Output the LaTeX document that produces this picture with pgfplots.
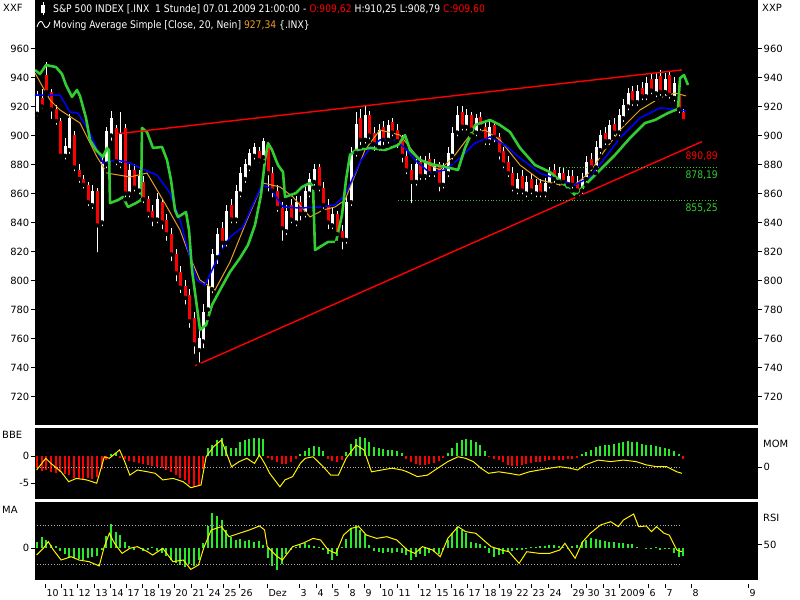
\documentclass[border=0pt]{standalone}
\usepackage{pgfplots}
\pgfplotsset{compat=1.18}
\usepackage{pgfplotstable}
\usepackage{fontspec}
\setmainfont{DejaVu Sans}
\newfontfamily\hdr[FakeStretch=0.88]{DejaVu Sans}
\definecolor{mgreen}{RGB}{50,205,50}
\definecolor{hgreen}{RGB}{40,235,40}
\definecolor{morange}{RGB}{230,160,40}
\definecolor{dotgray}{RGB}{170,170,170}

% hourly candles (x = bar position), up candles
\pgfplotstableread{
x o c h l
37 915 928 931 912
65 886 893 898 882
69 890 912 915 886
92 852 862 866 848
102 840 882 885 836
106 880 903 906 876
111 900 912 917 895
120 880 902 916 876
129 860 876 880 856
139 862 872 876 858
157 842 856 860 838
199 752 760 766 742
203 758 778 784 752
208 780 796 802 774
212 794 818 822 790
217 816 832 836 810
226 826 848 852 822
236 842 862 866 838
240 860 874 878 856
245 870 880 884 866
249 878 888 891 874
254 886 892 895 882
263 885 896 898 882
286 834 848 852 830
296 840 854 858 836
305 846 862 866 842
309 860 870 874 856
314 868 877 880 864
332 838 846 850 834
346 828 854 858 824
351 854 888 892 850
356 888 908 916 884
365 897 914 920 893
379 892 904 908 888
388 897 907 911 893
416 868 880 884 864
425 872 882 886 868
434 874 880 884 870
443 866 877 881 862
448 874 888 892 870
452 886 902 906 882
457 902 914 920 898
466 906 914 918 902
476 902 912 915 898
489 896 906 910 892
517 862 870 874 858
526 860 868 872 856
536 860 866 870 856
545 860 867 871 856
549 866 874 878 862
559 868 874 878 864
568 866 872 876 862
582 862 870 874 858
586 870 882 886 866
596 878 892 896 874
600 890 900 904 886
609 896 907 911 892
619 902 914 918 898
623 912 921 925 908
628 920 929 933 916
637 923 931 935 919
646 927 936 940 923
656 929 939 943 925
665 930 939 943 926
674 926 936 940 922
}\up
% down candles
\pgfplotstableread{
x o c h l
42 926 920 932 917
46 942 930 951 928
51 930 918 932 910
56 918 910 921 906
60 910 886 912 884
74 900 878 903 874
79 876 870 880 866
83 870 866 873 862
88 866 854 868 850
97 862 838 864 818
116 905 882 907 878
125 905 860 908 856
134 876 864 880 860
143 868 856 872 852
148 856 846 858 842
152 848 842 852 836
162 854 840 856 834
166 842 832 846 826
171 832 818 836 812
176 818 805 822 798
180 806 795 810 790
185 796 788 800 782
189 790 772 794 766
194 774 756 778 748
222 836 826 840 820
231 852 842 856 838
259 889 883 892 880
268 892 874 894 860
272 874 862 878 856
277 862 850 866 846
282 850 836 854 826
291 852 842 856 838
300 854 846 858 840
319 878 864 880 860
323 864 852 868 848
328 852 840 856 834
337 846 832 848 826
342 834 828 838 820
360 912 897 918 892
369 914 900 917 896
374 902 894 906 888
383 906 897 910 892
392 909 902 912 898
397 904 896 908 890
402 896 886 900 880
406 886 876 890 872
411 876 868 880 852
420 882 872 886 868
429 884 874 888 870
439 880 866 882 860
462 916 906 920 902
471 914 904 916 900
480 913 906 916 902
485 906 896 910 892
494 907 899 910 894
499 899 887 902 882
503 889 880 892 876
508 882 874 886 870
512 874 864 878 860
522 872 862 876 858
531 870 862 874 858
540 867 860 870 856
554 876 870 880 866
563 874 868 878 864
572 872 866 876 862
577 868 862 872 858
591 884 878 888 874
605 902 896 906 892
614 908 902 912 898
632 931 923 934 919
642 933 927 937 923
651 939 931 943 927
660 941 930 945 926
669 942 928 944 924
679 928 918 931 914
683 916 910 918 908
}\dn

\pgfplotstableread{
x y
35 927.9
60 927.9
70 916.2
78 915.5
90 901.7
103 881.0
117 883.1
130 881.0
140 877.6
157 872.7
170 860.3
180 841.7
190 816.2
197 800.3
205 796.9
212 807.2
220 818.9
230 830.0
243 836.9
255 855.5
262 865.9
270 863.8
283 850.7
300 850.0
320 850.7
335 852.1
345 859.0
352 869.3
360 881.7
370 891.4
380 896.9
395 896.9
405 891.4
415 883.1
430 874.1
445 876.2
460 884.5
475 894.8
490 899.0
505 893.4
520 884.5
540 874.1
560 869.3
575 865.9
590 871.4
605 884.5
620 898.3
640 912.1
660 919.0
680 917.6
686 916.9
}\bluema

\pgfplotstableread{
x y
35 943.1
50 924.5
60 917.6
80 908.6
97 885.2
107 874.1
130 871.4
147 874.1
163 855.5
180 834.8
190 816.2
200 800.3
215 793.4
230 812.7
247 841.7
263 867.2
280 864.5
293 857.6
310 843.8
323 848.6
335 850.7
345 855.5
355 872.7
365 890.0
380 903.8
400 900.3
420 883.1
440 876.2
455 886.6
470 900.3
485 903.8
500 896.9
520 879.6
540 869.3
560 865.9
575 865.9
590 874.8
605 890.0
620 903.8
640 917.6
660 925.9
675 929.3
686 927.3
}\orangema

\pgfplotstableread{
x y
35 945.2
40 942.4
46 948.6
56 947.2
62 942.4
66 934.8
72 926.6
77 931.4
80 927.2
86 912.1
90 896.9
96 890.0
103 885.2
107 891.4
109 890.0
110 853.4
118 855.5
123 857.6
128 850.7
136 853.4
141 855.5
142 905.2
147 902.4
153 891.4
162 892.1
167 883.1
171 869.3
175 848.6
178 843.8
186 847.2
189 834.8
192 807.2
196 786.6
200 765.9
206 769.3
212 783.1
220 793.4
230 805.9
240 815.5
248 824.5
255 838.3
261 859.0
265 883.1
268 894.8
272 890.0
278 879.6
283 874.8
285 857.6
296 860.3
302 864.5
310 867.2
313 865.2
315 821.0
328 826.6
336 826.6
342 845.2
346 869.3
350 886.6
356 890.0
370 891.4
385 890.0
398 893.4
405 900.3
410 890.0
420 883.1
435 879.6
450 877.6
458 876.2
465 891.4
475 907.2
490 910.7
500 907.2
510 902.4
520 891.4
535 879.6
550 874.8
565 865.9
575 859.0
585 865.9
600 876.2
615 886.6
630 898.3
645 908.6
655 910.7
668 915.5
678 918.3
680 939.6
684 941.7
688 934.8
}\greenline

% BBE histogram
\pgfplotstableread{
x y
37 -2.2
42 -2.8
46 -2.6
51 -3.0
56 -3.2
60 -3.0
65 -3.4
69 -3.6
74 -4.0
79 -4.2
83 -4.4
88 -4.0
92 -4.3
97 -3.8
102 -2.4
106 -0.8
120 -0.3
125 -0.6
129 -0.9
134 -1.1
139 -1.3
143 -1.5
148 -1.7
152 -1.9
157 -2.0
162 -2.3
166 -2.6
171 -3.0
176 -3.5
180 -4.0
185 -4.5
189 -5.2
194 -5.8
199 -5.6
203 -2.5
268 -0.3
272 -0.8
277 -1.2
282 -1.4
286 -1.5
291 -1.2
296 -0.6
328 -0.5
332 -1.0
337 -1.2
342 -0.8
406 -0.5
411 -1.2
416 -1.5
420 -1.6
425 -1.6
429 -1.5
434 -1.3
439 -1.0
443 -0.4
489 -0.2
494 -0.5
499 -0.8
503 -1.2
508 -1.6
512 -1.8
517 -1.8
522 -1.6
526 -1.4
531 -1.3
536 -1.2
540 -1.1
545 -1.0
549 -0.8
554 -0.7
559 -0.7
563 -0.8
568 -0.6
572 -0.5
577 -0.3
683 -0.6
}\bben
\pgfplotstableread{
x y
111 0.3
116 0.6
208 1.5
212 2.0
217 3.0
222 3.3
226 1.8
231 1.4
236 1.5
240 2.5
245 3.0
249 3.2
254 3.3
259 3.3
263 3.1
300 0.4
305 0.9
309 1.5
314 1.8
319 1.6
323 1.0
346 0.8
351 2.2
356 3.2
360 3.5
365 3.3
369 2.6
374 1.6
379 1.4
383 1.3
388 1.2
392 1.1
397 0.9
402 0.5
448 0.6
452 1.5
457 2.4
462 3.0
466 3.2
471 3.0
476 2.6
480 2.0
485 1.0
582 0.3
586 0.8
591 1.2
596 1.6
600 1.8
605 2.0
609 2.1
614 2.3
619 2.4
623 2.6
628 2.7
632 2.6
637 2.5
642 2.3
646 2.1
651 2.0
656 1.9
660 1.7
665 1.5
669 1.3
674 0.9
679 0.4
}\bbep

% momentum
\pgfplotstableread{
x y
36.6 -1.0
45.8 2.9
50.9 1.2
61.1 -1.6
68.7 -4.9
76.3 -3.8
86.5 -4.3
96.7 -5.4
104.3 3.4
109.4 2.9
119.6 5.7
124.7 1.8
129.8 -2.7
137.4 -1.0
147.6 -1.6
155.2 -2.1
162.8 -4.3
173.0 -3.8
183.2 -4.9
190.8 -6.9
201.0 -6.0
206.1 3.4
213.7 6.8
221.4 9.0
226.5 4.6
231.6 0.1
239.2 1.8
246.8 2.9
254.5 1.2
259.5 4.0
264.6 1.2
269.7 -2.1
279.9 -6.6
285.0 -4.3
292.6 -3.2
300.3 1.2
305.3 2.9
313.0 3.4
323.2 0.1
330.8 -2.7
338.4 -2.7
346.1 2.9
356.2 7.3
363.9 5.7
371.5 -1.6
381.7 -1.0
391.9 -0.4
402.0 -1.0
407.1 -1.6
417.3 -3.2
427.5 -2.7
437.7 -0.4
447.8 1.8
458.0 3.4
465.6 2.9
473.3 1.8
480.9 -0.4
488.5 -2.1
498.7 -1.6
508.9 -2.1
519.1 -2.7
529.3 -1.6
539.4 -1.0
549.6 -0.4
559.8 0.1
570.0 -0.4
577.6 -1.0
585.2 0.7
598.0 2.3
610.7 1.8
623.4 2.3
636.1 1.8
646.3 0.7
656.5 0.1
666.7 0.1
676.8 -1.6
681.9 -2.1
}\mom

% MA histogram
\pgfplotstableread{
x y
37 0.6
42 1.1
46 0.8
51 0.3
56 0.2
60 -0.3
65 -0.6
69 -0.9
74 -1.0
79 -1.1
83 -1.2
88 -1.0
92 -0.9
97 -0.8
102 -0.2
106 1.2
111 2.4
116 1.6
120 1.3
125 0.6
129 0.2
134 -0.2
139 0.1
143 -0.3
148 -0.2
152 0.1
157 -0.3
162 -0.5
166 -0.8
171 -1.2
176 -1.5
180 -1.7
185 -1.9
189 -1.6
194 -1.8
199 -1.2
203 0.5
208 2.2
212 3.5
217 3.2
222 2.8
226 1.8
231 1.1
236 0.8
240 0.9
245 0.7
249 0.8
254 0.6
259 0.7
263 0.3
268 -1.0
272 -1.8
277 -2.2
282 -1.6
286 -0.6
291 -0.2
296 0.1
300 0.3
305 0.5
309 0.3
314 0.2
319 0.1
323 -0.2
328 -0.6
332 -1.2
337 -0.8
342 0.1
346 0.9
351 2.0
356 2.3
360 1.8
365 1.4
369 0.3
374 -0.3
379 -0.4
383 -0.5
388 -0.4
392 -0.5
397 -0.4
402 -0.5
406 -0.7
411 -1.2
416 -0.9
420 -0.6
425 -0.8
429 -0.5
434 -0.4
439 -0.6
443 -0.2
448 0.8
452 1.5
457 2.1
462 1.8
466 1.5
471 0.6
476 0.5
480 0.4
485 0.2
489 -0.5
494 -0.9
499 -0.7
503 -0.6
508 -0.4
512 -0.3
517 -0.2
522 -0.2
526 -0.1
531 0.1
536 0.1
540 0.2
545 0.2
549 0.3
554 0.3
559 0.2
563 0.1
568 -0.1
572 0.2
577 0.3
582 0.6
586 0.8
591 1.0
596 0.9
600 0.8
605 0.7
609 0.6
614 0.6
619 0.5
623 0.5
628 0.4
632 0.4
637 0.1
646 -0.1
651 -0.1
656 0.1
660 -0.2
665 -0.1
669 -0.1
674 -0.5
679 -0.9
683 -0.8
}\mahist

% RSI
\pgfplotstableread{
x y
36.6 39.2
43.3 46.1
48.3 52.9
53.4 44.4
61.1 34.1
71.2 37.5
78.9 34.1
89.1 32.4
99.2 28.0
104.3 47.8
109.4 61.5
114.5 51.2
122.1 40.9
129.8 46.1
137.4 47.8
147.6 42.6
152.7 39.2
162.8 46.1
173.0 32.4
183.2 34.1
190.8 24.5
198.5 29.0
203.6 46.1
211.2 64.9
221.4 68.3
229.0 58.0
239.2 61.5
249.4 64.9
259.5 69.0
264.6 64.9
267.2 47.8
277.4 37.5
282.4 34.1
292.6 47.8
302.8 51.2
313.0 56.3
320.6 54.6
328.2 44.4
335.9 40.9
343.5 59.7
351.1 66.6
358.8 68.3
366.4 59.7
376.6 56.3
386.8 58.0
396.9 54.6
407.1 44.4
414.8 40.9
422.4 47.8
432.6 44.4
440.2 37.5
447.8 56.3
458.0 68.3
465.6 63.2
475.8 61.5
483.5 54.6
491.1 47.8
501.3 44.4
508.9 42.6
519.1 30.7
526.7 42.6
539.4 40.9
549.6 40.9
559.8 44.4
564.9 51.2
575.1 35.8
582.7 52.9
590.3 61.5
600.5 70.0
610.7 73.4
618.3 68.3
623.4 75.1
633.6 81.3
638.7 68.3
646.3 69.0
651.4 63.2
656.5 68.3
664.1 61.5
669.2 59.7
676.8 44.4
681.9 42.6
}\rsi

\pgfplotsset{
  panel/.style={scale only axis, width=723bp, xmin=35, xmax=758, anchor=south west,
    axis line style={draw=none}, xtick=\empty, tick align=outside,
    major tick length=4bp, tick style={black, line width=0.8bp},
    yticklabel style={font=\fontsize{10}{12}\selectfont, inner sep=1.5bp},
    /pgf/number format/assume math mode=true},
  wick/.style={only marks, mark=none, forget plot, error bars/.cd, y dir=plus, y explicit,
    error mark=none, error bar style={white, line width=1bp}},
  body/.style={only marks, mark=none, forget plot, error bars/.cd, y dir=plus, y explicit,
    error mark=none, error bar style={#1, line width=3bp}},
}

\begin{document}
\begin{tikzpicture}
\path[use as bounding box, fill=white] (0,0) rectangle (800bp,600bp);

% ---------- main price panel
\begin{axis}[panel, at={(35bp,175bp)}, height=425bp, ymin=700.34, ymax=993.45,
  ytick={720,740,...,960}, ytick pos=left, yticklabel pos=left,
  axis background/.style={fill=black}]
\addplot[wick] table[x=x, y=l, y error plus expr=\thisrow{h}-\thisrow{l}] {\up};
\addplot[wick] table[x=x, y=l, y error plus expr=\thisrow{h}-\thisrow{l}] {\dn};
\addplot[body=white] table[x=x, y=o, y error plus expr=\thisrow{c}-\thisrow{o}] {\up};
\addplot[body=red] table[x=x, y=c, y error plus expr=\thisrow{o}-\thisrow{c}] {\dn};
\addplot[morange, line width=1bp] table {\orangema};
\addplot[blue, line width=1.5bp] table {\bluema};
\addplot[mgreen, line width=2.6bp, line join=round] table {\greenline};
\addplot[red, line width=1.4bp] coordinates {(115,901.0) (682,945.2)};
\addplot[red, line width=1.4bp] coordinates {(195,741.2) (702,895.8)};
\addplot[mgreen, dotted, line width=0.9bp] coordinates {(560,878.19) (718,878.19)};
\addplot[mgreen, dotted, line width=0.9bp] coordinates {(398,855.25) (718,855.25)};
\node[anchor=north east, inner sep=0pt, text=red, font=\hdr\fontsize{10.5}{12}\selectfont, yshift=-3bp] at (axis cs:718,890.89) {890,89};
\node[anchor=north east, inner sep=0pt, text=mgreen, font=\hdr\fontsize{10.5}{12}\selectfont, yshift=-3bp] at (axis cs:718,878.19) {878,19};
\node[anchor=north east, inner sep=0pt, text=mgreen, font=\hdr\fontsize{10.5}{12}\selectfont, yshift=-3bp] at (axis cs:718,855.25) {855,25};
\end{axis}
\begin{axis}[panel, at={(35bp,175bp)}, height=425bp, ymin=700.34, ymax=993.45,
  ytick={720,740,...,960}, ytick pos=right, yticklabel pos=right]
\end{axis}

% ---------- BBE / MOM panel
\begin{axis}[panel, at={(35bp,101bp)}, height=71bp, ymin=-7.963, ymax=5.185,
  ytick={-5,0}, ytick pos=left, yticklabel pos=left, axis background/.style={fill=black}]
\addplot[ycomb, red, line width=1.6bp] table {\bben};
\addplot[ycomb, hgreen, line width=1.6bp] table {\bbep};
\end{axis}
\begin{axis}[panel, at={(35bp,101bp)}, height=71bp, ymin=-10.667, ymax=13,
  ytick={0}, ytick pos=right, yticklabel pos=right]
\addplot[dotgray, dotted, line width=0.8bp] coordinates {(37,0) (682,0)};
\addplot[yellow, line width=1bp] table {\mom};
\end{axis}

% ---------- MA / RSI panel
\begin{axis}[panel, at={(35bp,20bp)}, height=78bp, ymin=-3.2, ymax=4.6,
  ytick={0}, ytick pos=left, yticklabel pos=left, axis background/.style={fill=black}]
\addplot[ycomb, hgreen, line width=1.6bp] table {\mahist};
\end{axis}
\begin{axis}[panel, at={(35bp,20bp)}, height=78bp, ymin=13.6, ymax=93.6,
  ytick={50}, ytick pos=right, yticklabel pos=right]
\addplot[dotgray, dotted, line width=0.8bp] coordinates {(37,70) (682,70)};
\addplot[dotgray, dotted, line width=0.8bp] coordinates {(37,30) (682,30)};
\addplot[yellow, line width=1bp] table {\rsi};
\end{axis}

% ---------- date axis
\begin{axis}[scale only axis, width=723bp, height=4bp, at={(35bp,12bp)}, anchor=south west,
  xmin=35, xmax=758, ymin=0, ymax=1, axis line style={draw=none}, ytick=\empty,
  xtick={45,61,77,94,110,126,142,158,174,191,207,223,239,267,299,316,332,348,364,380,397,418,435,451,467,483,499,515,531,548,571,586,603,619,648,665,691,748},
  xticklabels={10,11,12,13,14,17,18,19,20,21,24,25,26,Dez,3,4,5,8,9,10,11,12,15,16,17,18,19,22,23,24,29,30,31,2009,6,7,8,9},
  xtick pos=bottom, tick align=inside, major tick length=4bp, tick style={black, line width=0.8bp},
  xticklabel style={anchor=north west, inner sep=0pt, xshift=1.5bp, yshift=-1.5bp, font=\fontsize{9.5}{11}\selectfont}]
\addplot[draw=none] coordinates {(40,0.5)};
\end{axis}

% ---------- header and side labels
\fill[white] (41bp,587bp) rectangle (45bp,595bp);
\draw[white, line width=0.8bp] (43bp,585bp) -- (43bp,598bp);
\draw[white, line width=0.9bp] (37bp,573bp) .. controls (39bp,580bp) and (42bp,580bp) .. (43.5bp,575.5bp) .. controls (45bp,571bp) and (48bp,571bp) .. (50bp,578bp);
\node[anchor=base west, inner sep=0pt, text=white, font=\hdr\fontsize{10.5}{12}\selectfont] at (53bp,587.5bp)
  {S\&P 500 INDEX [.INX\ \ 1 Stunde] 07.01.2009 21:00:00 - \textcolor{red}{O:909,62} H:910,25 L:908,79 \textcolor{red}{C:909,60}};
\node[anchor=base west, inner sep=0pt, text=white, font=\hdr\fontsize{10.5}{12}\selectfont] at (53bp,571.5bp)
  {Moving Average Simple [Close, 20, Nein] \textcolor{morange}{927,34} \{.INX\}};
\node[anchor=base west, inner sep=0pt, font=\fontsize{10}{12}\selectfont] at (3bp,588bp) {XXF};
\node[anchor=base west, inner sep=0pt, font=\fontsize{10}{12}\selectfont] at (762bp,588bp) {XXP};
\node[anchor=base west, inner sep=0pt, font=\fontsize{10}{12}\selectfont] at (2bp,161bp) {BBE};
\node[anchor=base west, inner sep=0pt, font=\fontsize{10}{12}\selectfont] at (763bp,152bp) {MOM};
\node[anchor=base west, inner sep=0pt, font=\fontsize{10}{12}\selectfont] at (2bp,86bp) {MA};
\node[anchor=base west, inner sep=0pt, font=\fontsize{10}{12}\selectfont] at (763bp,78bp) {RSI};
\end{tikzpicture}
\end{document}
